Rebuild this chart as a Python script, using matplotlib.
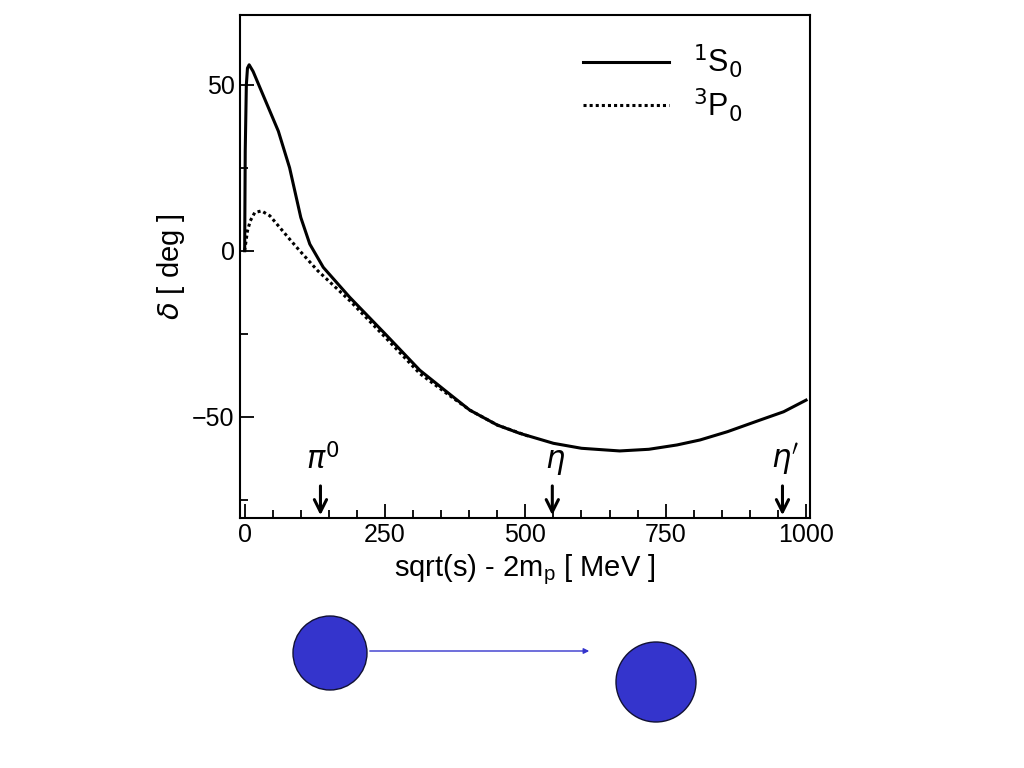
import matplotlib
matplotlib.use("Agg")
import matplotlib.pyplot as plt
from matplotlib.patches import Circle, FancyArrowPatch
from matplotlib.ticker import MultipleLocator

plt.rcParams['font.family'] = ['Liberation Sans', 'DejaVu Sans']

s1_x = [0, 1, 3, 5, 8, 15, 25, 40, 60, 80, 100, 116, 140, 187, 250, 312, 360, 401, 450, 490, 550, 600, 668, 720, 770, 811, 860, 918, 960, 1000]
s1_y = [0, 30, 50, 55, 56, 54, 50, 44, 36, 25, 10, 2, -5, -14, -25, -36, -42.5, -48, -52.5, -55, -58, -59.5, -60.3, -59.8, -58.5, -57, -54.5, -51, -48.5, -45]
p0_x = [0, 5, 10, 18, 30, 45, 60, 80, 98, 130, 187, 250, 312, 360, 401, 450, 508]
p0_y = [0, 6, 9, 11.5, 12, 10.5, 7.5, 3.5, 0, -6, -15, -26, -37, -43, -48, -52.5, -56]
meson_x = [135, 548, 958]
meson_lab = [r'$\pi^0$', r'$\eta$', r"$\eta'$"]

fig = plt.figure(figsize=(10.24, 7.68), dpi=100)
ax = fig.add_axes([0.234, 0.3255, 0.557, 0.655])
ax.plot(s1_x, s1_y, color='black', lw=2.2, label=r'$^1$S$_0$')
ax.plot(p0_x, p0_y, color='black', lw=2.2, ls=(0, (1, 1)), label=r'$^3$P$_0$')
ax.set_xlim(-9, 1007)
ax.set_ylim(-80.5, 71)
ax.xaxis.set_major_locator(MultipleLocator(250))
ax.xaxis.set_minor_locator(MultipleLocator(50))
ax.yaxis.set_major_locator(MultipleLocator(50))
ax.yaxis.set_minor_locator(MultipleLocator(25))
ax.tick_params(direction='in', labelsize=18, width=1.3, length=10)
ax.tick_params(which='minor', direction='in', width=1.3, length=6)
for s in ax.spines.values():
    s.set_linewidth(1.5)
ax.set_xlabel(r'sqrt(s) - 2m$_\mathregular{p}$ [ MeV ]', fontsize=21)
ax.set_ylabel(r'$\delta$ [ deg ]', fontsize=21)
for x, lab in zip(meson_x, meson_lab):
    ax.annotate('', xy=(x, -80.5), xytext=(x, -70), arrowprops=dict(arrowstyle='->', lw=2.2, color='black', mutation_scale=22))
    ax.text(x + 5, -68, lab, fontsize=22, ha='center', va='bottom', family='DejaVu Serif')
leg = ax.legend(loc='upper right', fontsize=22, frameon=False, handlelength=2.8, labelspacing=0.2, bbox_to_anchor=(0.93, 1.0))

circ1 = Circle((330, 768 - 653), 37, transform=None, facecolor='#3434cc', edgecolor='#111133', lw=1)
circ2 = Circle((656, 768 - 682), 40, transform=None, facecolor='#3434cc', edgecolor='#111133', lw=1)
fig.patches.extend([circ1, circ2])
arr = FancyArrowPatch((367, 768 - 651), (592, 768 - 651), transform=None, arrowstyle='-|>', mutation_scale=8, color='#3434cc', lw=1)
fig.patches.append(arr)

fig.savefig('out.png', dpi=100)
